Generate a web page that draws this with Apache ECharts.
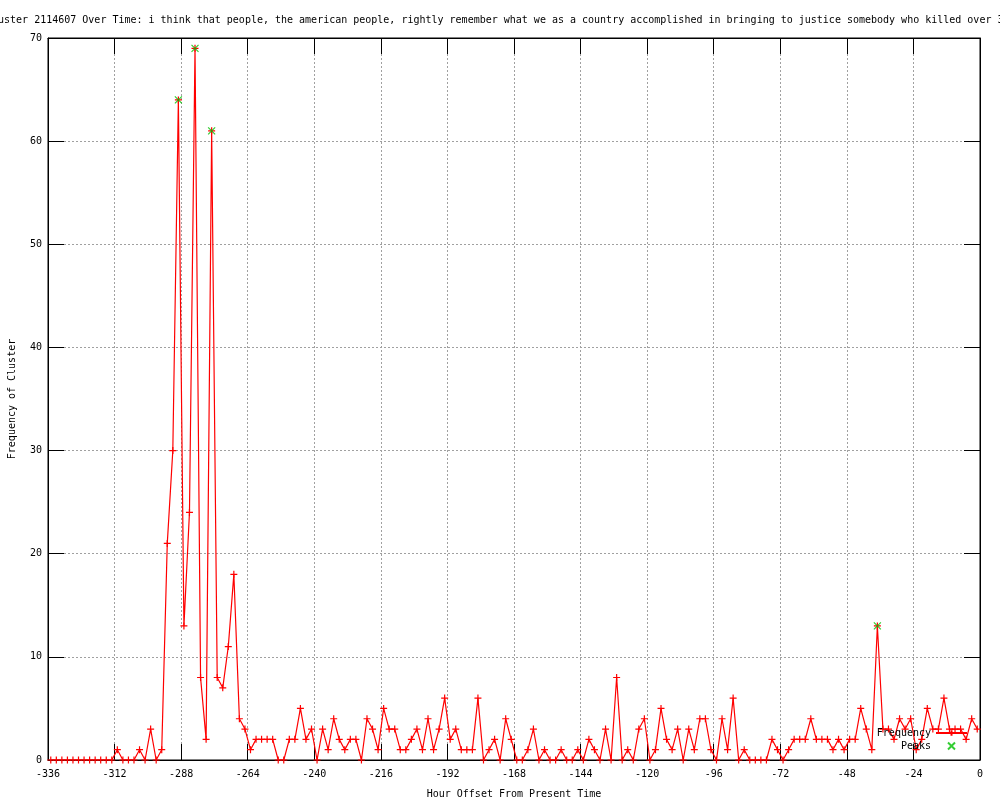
<!DOCTYPE html>
<html>
<head>
<meta charset="utf-8">
<title>Cluster 2114607 Over Time</title>
<script src="https://cdn.jsdelivr.net/npm/echarts@6/dist/echarts.min.js"></script>
<style>
  html, body { margin: 0; padding: 0; background: #fff; }
  #main { width: 1000px; height: 800px; }
</style>
</head>
<body>
<div id="main"></div>
<script>
// hour offsets, one bin every 2 hours (-335 ... -1)
var hours = [];
for (var h = -335; h <= -1; h += 2) hours.push(h);

// cluster frequency per bin
var frequency = [
  0, 0, 0, 0, 0, 0, 0, 0, 0, 0, 0,
  0, 1, 0, 0, 0, 1, 0, 3, 0, 1,
  21, 30, 64, 13, 24, 69, 8, 2, 61, 8,
  7, 11, 18, 4, 3, 1, 2, 2, 2, 2,
  0, 0, 2, 2, 5, 2, 3, 0, 3, 1,
  4, 2, 1, 2, 2, 0, 4, 3, 1, 5,
  3, 3, 1, 1, 2, 3, 1, 4, 1, 3,
  6, 2, 3, 1, 1, 1, 6, 0, 1, 2,
  0, 4, 2, 0, 0, 1, 3, 0, 1, 0,
  0, 1, 0, 0, 1, 0, 2, 1, 0, 3,
  0, 8, 0, 1, 0, 3, 4, 0, 1, 5,
  2, 1, 3, 0, 3, 1, 4, 4, 1, 0,
  4, 1, 6, 0, 1, 0, 0, 0, 0, 2,
  1, 0, 1, 2, 2, 2, 4, 2, 2, 2,
  1, 2, 1, 2, 2, 5, 3, 1, 13, 3,
  3, 2, 4, 3, 4, 1, 2, 5, 3, 3,
  6, 3, 3, 3, 2, 4, 3
];

// detected peaks
var peakHours = [-289, -283, -277, -37];
var peakValues = [64, 69, 61, 13];

var titleText = 'Cluster 2114607 Over Time: i think that people, the american people, rightly remember what we as a country accomplished in bringing to justice somebody who killed over 3';

var freqData = hours.map(function (h, i) { return [h, frequency[i]]; });
var peakData = peakHours.map(function (h, i) { return [h, peakValues[i]]; });

var MONO = '"DejaVu Sans Mono", "Liberation Mono", monospace';
var PLUS = 'path://M5,0L5,10M0,5L10,5';
var CROSS = 'path://M0,0L10,10M0,10L10,0';

var chart = echarts.init(document.getElementById('main'), null, { renderer: 'canvas' });

var gridLine = { show: true, lineStyle: { color: '#a0a0a0', type: [2, 2], width: 1 } };
var tick = { show: true, inside: true, length: 16, lineStyle: { color: '#000', width: 1 } };

var option = {
  backgroundColor: '#fff',
  animation: false,
  textStyle: { fontFamily: MONO },
  title: {
    text: titleText,
    left: -14,
    top: 14,
    padding: 0,
    textStyle: { fontFamily: MONO, fontSize: 10, fontWeight: 'normal', color: '#000', lineHeight: 12 }
  },
  grid: {
    left: 48, right: 20, top: 38, bottom: 40,
    outerBoundsMode: 'none',
    show: true, borderColor: '#000', borderWidth: 1, backgroundColor: 'transparent'
  },
  legend: {
    orient: 'vertical',
    right: 32,
    top: 728,
    align: 'right',
    itemWidth: 31,
    itemHeight: 7,
    itemGap: 3,
    padding: 0,
    textStyle: { fontFamily: MONO, fontSize: 10, color: '#000' },
    data: ['Frequency', 'Peaks']
  },
  xAxis: [{
    type: 'value',
    min: -336, max: 0, interval: 24,
    name: 'Hour Offset From Present Time',
    nameLocation: 'middle',
    nameGap: 29,
    nameTextStyle: { fontFamily: MONO, fontSize: 10, color: '#000' },
    axisLine: { show: true, onZero: false, lineStyle: { color: '#000', width: 1 } },
    axisTick: tick,
    axisLabel: { fontFamily: MONO, fontSize: 10, color: '#000', margin: 9 },
    splitLine: gridLine
  }, {
    type: 'value',
    position: 'top',
    min: -336, max: 0, interval: 24,
    axisLine: { show: true, onZero: false, lineStyle: { color: '#000', width: 1 } },
    axisTick: tick,
    axisLabel: { show: false },
    splitLine: { show: false }
  }],
  yAxis: [{
    type: 'value',
    min: 0, max: 70, interval: 10,
    name: 'Frequency of Cluster',
    nameLocation: 'middle',
    nameGap: 31,
    nameTextStyle: { fontFamily: MONO, fontSize: 10, color: '#000' },
    axisLine: { show: true, onZero: false, lineStyle: { color: '#000', width: 1 } },
    axisTick: tick,
    axisLabel: { fontFamily: MONO, fontSize: 10, color: '#000', margin: 6 },
    splitLine: gridLine
  }, {
    type: 'value',
    position: 'right',
    min: 0, max: 70, interval: 10,
    axisLine: { show: true, onZero: false, lineStyle: { color: '#000', width: 1 } },
    axisTick: tick,
    axisLabel: { show: false },
    splitLine: { show: false }
  }],
  series: [{
    name: 'Frequency',
    type: 'line',
    data: freqData,
    symbol: PLUS,
    symbolSize: 7,
    showAllSymbol: true,
    lineStyle: { color: '#ff0000', width: 1.2 },
    itemStyle: { color: '#ff0000', borderColor: '#ff0000', borderWidth: 1.2 },
    z: 2
  }, {
    name: 'Peaks',
    type: 'scatter',
    data: peakData,
    symbol: CROSS,
    symbolSize: 7,
    itemStyle: { color: '#00c000', borderColor: '#00c000', borderWidth: 1.2 },
    z: 3
  }]
};

chart.setOption(option);
</script>
</body>
</html>
